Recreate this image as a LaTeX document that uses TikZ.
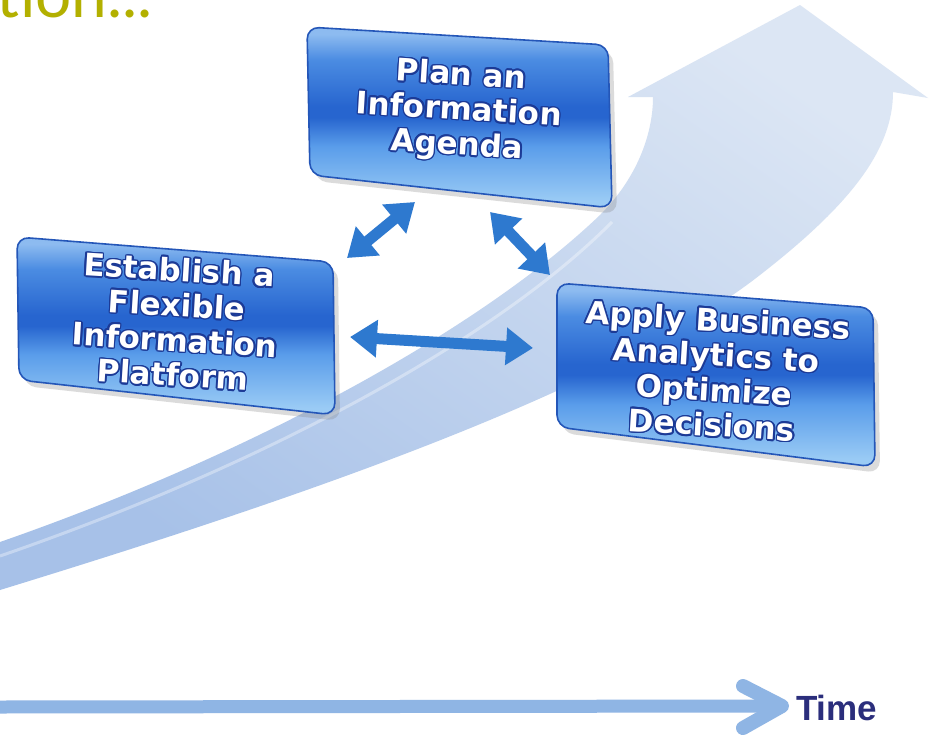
\documentclass[tikz,border=0pt]{standalone}
\usepackage{fontspec}
\usepackage{contour}
\usetikzlibrary{arrows.meta,shadows}
\newfontfamily\boxfont{DejaVu Sans}
\newfontfamily\timefont{Liberation Sans}
\newfontfamily\headfont{Lato}
\definecolor{arrowtop}{HTML}{DCE6F4}
\definecolor{arrowbot}{HTML}{A7C1E8}
\definecolor{boxedge}{HTML}{2456B8}
\definecolor{txtedge}{HTML}{1C3A96}
\definecolor{linkblue}{HTML}{2E79CF}
\definecolor{timeblue}{HTML}{8FB5E4}
\definecolor{timetext}{HTML}{2B2E7C}
\definecolor{titleolive}{HTML}{B3B000}
\definecolor{gtop}{HTML}{8DBBF0}
\definecolor{gmid}{HTML}{4B8CE2}
\definecolor{gdark}{HTML}{2765CF}
\definecolor{gmidb}{HTML}{5A9DEA}
\definecolor{gbot}{HTML}{9ACBF5}
\pgfdeclareverticalshading{glossy}{100bp}{color(0bp)=(gbot); color(27bp)=(gbot); color(42bp)=(gmidb); color(50bp)=(gdark); color(53bp)=(gdark); color(66bp)=(gmid); color(73bp)=(gtop); color(100bp)=(gtop)}
\contourlength{1.5pt}
\contournumber{16}
\newcommand{\ct}[1]{\contour{txtedge}{#1}}
\tikzset{
  boxshape/.style={shading=glossy, draw=boxedge, line width=1.6pt, rounded corners=12pt,
    drop shadow={shadow xshift=5pt, shadow yshift=-6pt, opacity=0.28}},
  boxtext/.style={text=white, font=\boxfont\bfseries\fontsize{31}{35}\selectfont, align=center, rotate=-3.5, inner sep=0pt},
  linkarrow/.style={draw=linkblue, line width=11pt, {Triangle[length=27pt,width=36pt]}-{Triangle[length=27pt,width=36pt]}},
  timearrow/.style={draw=timeblue, line width=13pt},
}
\begin{document}
\begin{tikzpicture}[x=1pt,y=-1pt]
\useasboundingbox (0,0) rectangle (934,740);
\clip (0,0) rectangle (934,740);
\fill[white] (0,0) rectangle (934,740);
% title fragment
\node[anchor=base east, inner sep=0pt, text=titleolive, font=\headfont\fontsize{64}{66}\selectfont] (title) at (153,17) {ation...};
% big curved arrow
\shade[top color=arrowtop, bottom color=arrowbot, shading angle=-35]
  (0,542) .. controls (250,455) and (480,330) .. (600,215)
  .. controls (640,175) and (653,130) .. (653,97)
  -- (628,97) -- (800,5) -- (928,98) -- (893,92)
  .. controls (893,150) and (850,205) .. (760,275)
  .. controls (600,400) and (250,513) .. (0,590) -- cycle;
\draw[white, opacity=0.35, line width=3pt] (0,556) .. controls (250,470) and (490,345) .. (612,222);
% boxes
\shade[boxshape] (307,27) -- (608,45) -- (612,208) -- (310,175) -- cycle;
\shade[boxshape] (17,237) -- (333,262) -- (335,415) -- (19,380) -- cycle;
\shade[boxshape] (557,283) -- (873,308) -- (875,467) -- (557,427) -- cycle;
\node[boxtext] (plan) at (459,112) {\ct{Plan an}\\\ct{Information}\\\ct{Agenda}};
\node[boxtext] (est) at (176,323) {\ct{Establish a}\\\ct{Flexible}\\\ct{Information}\\\ct{Platform}};
\node[boxtext] (apply) at (715,373) {\ct{Apply Business}\\\ct{Analytics to}\\\ct{Optimize}\\\ct{Decisions}};
% link arrows
\coordinate (a1s) at (347,258);
\coordinate (a1e) at (415,202);
\coordinate (a2s) at (490,212);
\coordinate (a2e) at (550,275);
\coordinate (a3s) at (350,337);
\coordinate (a3e) at (533,348);
\draw[linkarrow] (a1s) -- (a1e);
\draw[linkarrow] (a2s) -- (a2e);
\draw[linkarrow] (a3s) -- (a3e);
% time axis
\node[anchor=base west, inner sep=0pt, text=timetext, font=\timefont\bfseries\fontsize{35}{38}\selectfont] (time) at (796,720) {Time};
\coordinate (tstart) at (-5,707);
\coordinate (ttip) at (782,706);
\coordinate (tb1) at (743,686);
\coordinate (tb2) at (743,728);
\draw[timearrow] (tstart) -- (ttip);
\draw[timearrow, line width=14pt, line cap=round, line join=round] (tb1) -- (ttip) -- (tb2);
\end{tikzpicture}
\end{document}
